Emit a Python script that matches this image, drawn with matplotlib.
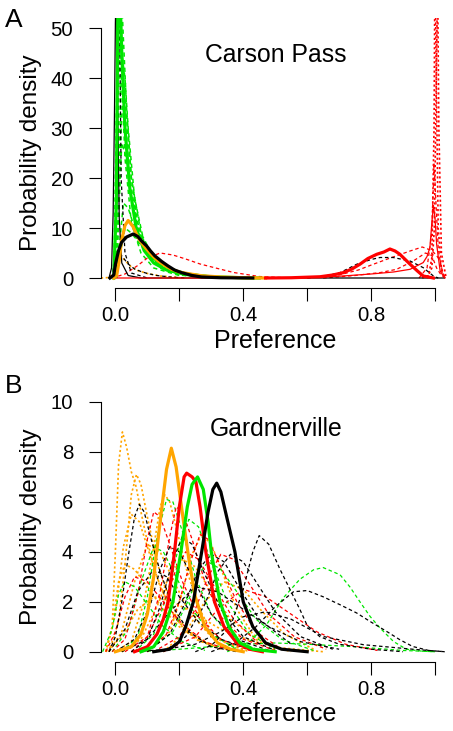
import matplotlib
matplotlib.use("Agg")
import matplotlib.pyplot as plt

plt.rcParams['font.family'] = ['Liberation Sans', 'DejaVu Sans']

RED = '#FF0000'
GREEN = '#00E600'
ORANGE = '#FFA500'
BLACK = '#000000'

# ---------------- Panel A: Carson Pass ----------------
# thick (pooled) curves
carson_black_x = [-0.017, -0.005, 0.0, 0.01, 0.019, 0.035, 0.056, 0.07, 0.082, 0.098, 0.11, 0.124,
                  0.145, 0.165, 0.185, 0.207, 0.24, 0.27, 0.33, 0.43]
carson_black_y = [0, 0.6, 2.75, 5.5, 7.1, 8.2, 8.8, 8.3, 7.4, 6.4, 5.4, 4.4,
                  3.3, 2.4, 1.6, 1.07, 0.5, 0.2, 0.05, 0]
carson_orange_x = [-0.005, 0.004, 0.012, 0.019, 0.03, 0.04, 0.055, 0.071, 0.087, 0.103, 0.12, 0.134,
                   0.155, 0.176, 0.2, 0.228, 0.27, 0.33, 0.4, 0.47]
carson_orange_y = [0, 0.5, 3.5, 7.4, 10.5, 11.5, 10.3, 8.1, 6.6, 5.4, 4.2, 3.4,
                   2.5, 1.74, 1.2, 0.87, 0.45, 0.2, 0.05, 0]
carson_red_x = [0.47, 0.55, 0.64, 0.68, 0.713, 0.74, 0.765, 0.79, 0.818, 0.84, 0.859, 0.875,
                0.89, 0.922, 0.945, 0.963, 0.995]
carson_red_y = [0, 0.05, 0.25, 0.6, 1.07, 1.8, 2.75, 3.9, 4.75, 5.2, 5.8, 5.4,
                4.75, 2.75, 1.4, 0.4, 0]
carson_green_x = [-0.005, 0.003, 0.008, 0.013, 0.02, 0.03, 0.045, 0.065, 0.09, 0.12, 0.16, 0.22,
                  0.3, 0.4, 0.45]
carson_green_y = [0, 15, 55, 60, 45, 30, 18, 10, 5.5, 3, 1.6, 0.7, 0.25, 0.05, 0]

# thin solid curves
carson_thin_black_x = [-0.02, -0.012, -0.007, -0.003, 0.0, 0.003, 0.007, 0.012, 0.02, 0.04, 0.08, 1.03]
carson_thin_black_y = [0, 2, 13, 32, 51, 60, 35, 12, 3, 0.5, 0, 0]
carson_thin_red_x = [-0.01, 0.2, 0.45, 0.577, 0.7, 0.8, 0.87, 0.922, 0.963, 0.975, 0.984, 0.99,
                     0.995, 1.0, 1.005, 1.016, 1.03]
carson_thin_red_y = [0, 0, 0, 0.07, 0.35, 0.8, 1.2, 1.74, 3.08, 4.3, 6.1, 11,
                     14.5, 12, 6.8, 1.4, 0]

# individual curves (dashed)
carson_green_dash_x = [
    [-0.005, 0.005, 0.012, 0.02, 0.03, 0.045, 0.07, 0.1, 0.15, 0.2, 0.3],
    [0.0, 0.01, 0.017, 0.025, 0.035, 0.05, 0.08, 0.12, 0.18, 0.25, 0.35],
    [0.0, 0.01, 0.02, 0.03, 0.04, 0.06, 0.09, 0.13, 0.2, 0.3],
    [0.0, 0.01, 0.02, 0.03, 0.05, 0.07, 0.1, 0.15, 0.22, 0.3],
    [0.0, 0.015, 0.025, 0.04, 0.06, 0.09, 0.13, 0.2, 0.3],
    [0.0, 0.015, 0.03, 0.05, 0.08, 0.12, 0.16, 0.22, 0.3, 0.4],
    [0.0, 0.005, 0.01, 0.02, 0.03, 0.05, 0.08, 0.12, 0.2],
    [0.005, 0.015, 0.025, 0.035, 0.05, 0.07, 0.1, 0.14, 0.2, 0.28],
]
carson_green_dash_y = [
    [0, 40, 70, 48, 32, 20, 10, 5, 2, 0.9, 0.2],
    [0, 35, 60, 48, 34, 20, 9, 4, 1.6, 0.6, 0.1],
    [0, 20, 45, 40, 30, 16, 7, 3, 1, 0.2],
    [0, 12, 27, 25, 16, 10, 5, 2, 0.7, 0.1],
    [0, 8, 15, 14, 10, 6, 3, 1, 0.2],
    [0, 5, 10, 9, 6.5, 4, 2.2, 1.0, 0.35, 0],
    [0, 30, 75, 40, 24, 11, 5, 2, 0.5],
    [0, 25, 40, 32, 20, 11, 5, 2, 0.6, 0.1],
]
carson_black_dash_x = [
    [-0.01, -0.002, 0.003, 0.008, 0.012, 0.018, 0.03, 0.05, 0.1],
    [-0.01, 0.0, 0.008, 0.015, 0.025, 0.04, 0.06, 0.08, 0.1, 0.13, 0.17, 0.22],
    [0.6, 0.65, 0.703, 0.755, 0.8, 0.828, 0.869, 0.922, 0.963, 0.995, 1.01],
]
carson_black_dash_y = [
    [0, 5, 13, 51, 60, 20, 5, 1, 0],
    [0, 1.5, 4, 4.8, 4, 2.8, 1.8, 1.3, 0.9, 0.5, 0.2, 0],
    [0, 0.3, 1.07, 2.75, 3.7, 4.1, 4.1, 3.4, 2.07, 0.4, 0],
]
carson_orange_dash_x = [[-0.045, -0.02, 0.0, 0.01, 0.018, 0.03, 0.05, 0.07, 0.1, 0.14, 0.2]]
carson_orange_dash_y = [[0, 0.1, 1.5, 3.8, 4.5, 3.5, 2.2, 1.5, 0.9, 0.4, 0.1]]
carson_red_dash_x = [
    [-0.01, 0.03, 0.07, 0.1, 0.14, 0.18, 0.22, 0.265, 0.32, 0.37, 0.45, 0.55],
    [0.6, 0.7, 0.76, 0.807, 0.86, 0.922, 0.96, 0.99, 1.005, 1.016, 1.025, 1.035],
    [0.65, 0.75, 0.83, 0.88, 0.932, 0.97, 0.99, 1.005, 1.02, 1.035],
    [0.95, 0.975, 0.99, 0.997, 1.003, 1.01, 1.02, 1.03],
]
carson_red_dash_y = [
    [0, 0.8, 2.5, 4, 5, 4.6, 3.8, 2.8, 1.9, 1.1, 0.3, 0],
    [0, 0.6, 1.6, 2.75, 4.0, 5.4, 6.2, 5.5, 4.5, 3.4, 0.8, 0],
    [0, 0.5, 1.1, 1.74, 3.4, 5, 4.5, 2, 0.5, 0],
    [0, 2, 9, 23, 15, 6, 1.5, 0],
]
carson_red_dot_x = [
    [0.96, 0.98, 0.99, 0.997, 1.0, 1.004, 1.01, 1.02, 1.03],
    [0.975, 0.99, 0.998, 1.005, 1.008, 1.012, 1.02, 1.035],
]
carson_red_dot_y = [
    [0, 0.5, 4, 30, 65, 40, 10, 2, 0],
    [0, 2, 10, 45, 60, 30, 5, 0],
]

# ---------------- Panel B: Gardnerville ----------------
gard_orange_x = [0.0, 0.05, 0.08, 0.1, 0.12, 0.14, 0.16, 0.175, 0.19, 0.21, 0.23, 0.25, 0.28, 0.32, 0.36, 0.4]
gard_orange_y = [0, 0.2, 0.7, 1.5, 3, 5.2, 7.3, 8.15, 7.4, 5.5, 3.7, 2.2, 1.0, 0.35, 0.1, 0]
gard_red_x = [0.06, 0.1, 0.13, 0.15, 0.165, 0.185, 0.2, 0.215, 0.223, 0.24, 0.252, 0.265, 0.283,
              0.31, 0.34, 0.38, 0.42, 0.46]
gard_red_y = [0, 0.2, 0.7, 1.3, 2, 4, 5.8, 7.0, 7.15, 7.0, 6.8, 5.8, 4,
              2, 1, 0.35, 0.1, 0]
gard_green_x = [0.08, 0.12, 0.15, 0.18, 0.205, 0.225, 0.24, 0.257, 0.275, 0.29, 0.30, 0.327, 0.355,
                0.39, 0.43, 0.5]
gard_green_y = [0, 0.2, 0.8, 2, 4, 5.8, 6.7, 7.0, 6.5, 5.2, 4, 2, 1, 0.35, 0.1, 0]
gard_black_x = [0.12, 0.17, 0.2, 0.22, 0.244, 0.27, 0.29, 0.305, 0.317, 0.33, 0.35, 0.374, 0.4,
                0.43, 0.47, 0.52, 0.6]
gard_black_y = [0, 0.1, 0.4, 1, 2, 4, 5.6, 6.5, 6.75, 6.4, 5.3, 4, 2, 1, 0.35, 0.1, 0]

gard_orange_dot_x = [
    [-0.03, -0.01, 0.0, 0.01, 0.022, 0.035, 0.05, 0.065, 0.08, 0.1, 0.13, 0.17, 0.22, 0.3, 0.4],
    [-0.02, 0.01, 0.03, 0.05, 0.066, 0.08, 0.1, 0.13, 0.17, 0.22, 0.3, 0.4],
    [0.0, 0.05, 0.09, 0.12, 0.14, 0.155, 0.17, 0.19, 0.22, 0.26, 0.3, 0.35, 0.42],
    [0.1, 0.17, 0.21, 0.24, 0.27, 0.3, 0.34, 0.38, 0.43, 0.5],
    [-0.03, -0.01, 0.01, 0.03, 0.06, 0.1, 0.15, 0.2, 0.27, 0.35],
    [-0.03, 0.0, 0.025, 0.05, 0.075, 0.1, 0.14, 0.19, 0.25, 0.33],
    [-0.02, 0.02, 0.06, 0.1, 0.14, 0.18, 0.23, 0.3, 0.4],
    [0.15, 0.22, 0.28, 0.34, 0.4, 0.46, 0.53, 0.62],
    [0.02, 0.08, 0.13, 0.17, 0.21, 0.25, 0.3, 0.36, 0.45, 0.55],
    [-0.03, 0.02, 0.07, 0.12, 0.18, 0.25, 0.33, 0.42, 0.52, 0.65],
]
gard_orange_dot_y = [
    [0, 1, 4, 7.5, 8.8, 8.2, 7.2, 6.6, 5.6, 4.4, 3.0, 1.7, 0.8, 0.25, 0],
    [0, 1.2, 3.5, 6.3, 7.1, 6.7, 5.4, 3.6, 2.0, 0.9, 0.25, 0],
    [0, 0.4, 2, 4.2, 5.8, 6.28, 6.0, 5.0, 3.4, 1.8, 0.8, 0.3, 0],
    [0, 0.8, 2.4, 3.9, 4.7, 4.3, 3.0, 1.7, 0.7, 0.1],
    [0, 1, 2.8, 3.5, 3.3, 2.6, 1.7, 1.0, 0.4, 0.1],
    [0, 1.5, 4.2, 5.5, 5.2, 4.2, 2.6, 1.3, 0.5, 0.1],
    [0, 0.8, 2.8, 4.3, 4.0, 2.9, 1.6, 0.6, 0.1],
    [0, 0.8, 2.0, 2.8, 2.5, 1.6, 0.7, 0.1],
    [0, 0.5, 1.8, 3.1, 3.7, 3.4, 2.4, 1.3, 0.4, 0],
    [0, 0.6, 1.7, 2.2, 2.0, 1.5, 0.9, 0.45, 0.15, 0],
]
gard_black_dash_x = [
    [-0.02, 0.0, 0.02, 0.04, 0.06, 0.075, 0.09, 0.11, 0.14, 0.18, 0.23, 0.3, 0.38],
    [0.25, 0.3, 0.36, 0.4, 0.43, 0.45, 0.48, 0.515, 0.546, 0.577, 0.6, 0.64, 0.7, 0.8, 0.9],
    [0.3, 0.38, 0.44, 0.5, 0.557, 0.6, 0.65, 0.703, 0.755, 0.797, 0.849, 0.89, 0.93, 0.98, 1.03],
    [0.05, 0.1, 0.14, 0.18, 0.21, 0.24, 0.28, 0.33, 0.4, 0.5],
    [0.15, 0.22, 0.28, 0.32, 0.36, 0.4, 0.45, 0.5, 0.58, 0.68],
    [0.1, 0.17, 0.22, 0.26, 0.3, 0.34, 0.39, 0.45, 0.55],
    [0.05, 0.15, 0.25, 0.33, 0.4, 0.47, 0.55, 0.65, 0.776, 0.93, 1.03],
    [-0.02, 0.03, 0.07, 0.12, 0.16, 0.2, 0.26, 0.33, 0.42],
    [0.02, 0.1, 0.17, 0.25, 0.32, 0.4, 0.48, 0.58, 0.7],
    [0.0, 0.06, 0.11, 0.14, 0.17, 0.2, 0.24, 0.3, 0.38, 0.48],
]
gard_black_dash_y = [
    [0, 0.6, 2.0, 3.8, 5.4, 5.9, 5.6, 4.6, 3.2, 1.8, 0.8, 0.2, 0],
    [0, 0.25, 1.0, 2.5, 4.0, 4.65, 4.3, 3.3, 2.5, 1.7, 1.05, 0.6, 0.3, 0.1, 0],
    [0, 0.4, 1.0, 1.8, 2.4, 2.45, 2.2, 1.88, 1.55, 1.21, 0.81, 0.48, 0.21, 0.05, 0],
    [0, 0.5, 1.8, 3.7, 4.6, 4.3, 3.1, 1.7, 0.6, 0.05],
    [0, 0.6, 1.9, 3.2, 3.9, 3.6, 2.6, 1.6, 0.6, 0.1],
    [0, 0.7, 2.0, 3.3, 3.9, 3.6, 2.5, 1.3, 0.3],
    [0, 0.08, 0.3, 0.8, 1.4, 1.6, 1.3, 0.61, 0.28, 0.1, 0],
    [0, 0.9, 2.4, 3.3, 3.0, 2.2, 1.2, 0.5, 0.1],
    [0, 0.5, 1.6, 2.6, 2.4, 1.7, 1.0, 0.4, 0.1],
    [0, 0.5, 1.9, 3.3, 4.2, 4.0, 3.0, 1.5, 0.5, 0.05],
]
gard_red_dash_x = [
    [-0.01, 0.03, 0.07, 0.1, 0.12, 0.14, 0.17, 0.21, 0.26, 0.33, 0.42],
    [0.05, 0.1, 0.14, 0.17, 0.19, 0.21, 0.24, 0.28, 0.33, 0.4, 0.5],
    [0.1, 0.16, 0.2, 0.235, 0.265, 0.29, 0.33, 0.38, 0.44, 0.52],
    [0.12, 0.2, 0.25, 0.29, 0.33, 0.37, 0.42, 0.48, 0.56, 0.66],
    [0.15, 0.25, 0.32, 0.4, 0.47, 0.55, 0.63, 0.72, 0.82],
    [-0.03, 0.0, 0.03, 0.06, 0.1, 0.15, 0.21, 0.28, 0.36],
    [0.03, 0.1, 0.15, 0.19, 0.22, 0.26, 0.31, 0.37, 0.45],
]
gard_red_dash_y = [
    [0, 0.5, 2.3, 4.5, 5.6, 5.4, 4.3, 2.8, 1.4, 0.5, 0.05],
    [0, 0.6, 2.4, 4.6, 5.8, 5.6, 4.5, 2.8, 1.4, 0.5, 0.05],
    [0, 0.7, 2.0, 3.6, 4.7, 4.5, 3.4, 2.0, 0.8, 0.1],
    [0, 0.6, 1.7, 3.0, 3.9, 3.7, 2.7, 1.5, 0.6, 0.1],
    [0, 0.6, 1.7, 2.5, 2.2, 1.5, 0.8, 0.3, 0.05],
    [0, 0.8, 2.2, 3.0, 2.8, 2.0, 1.1, 0.4, 0.05],
    [0, 0.6, 1.9, 3.3, 4.0, 3.7, 2.6, 1.3, 0.3],
]
gard_green_dash_x = [
    [0.02, 0.07, 0.1, 0.13, 0.16, 0.18, 0.21, 0.25, 0.3, 0.37, 0.45],
    [0.35, 0.42, 0.473, 0.525, 0.577, 0.62, 0.65, 0.703, 0.734, 0.765, 0.797, 0.828, 0.87, 0.91, 0.96, 1.0],
    [0.06, 0.12, 0.16, 0.2, 0.23, 0.26, 0.3, 0.35, 0.42, 0.5],
    [-0.04, -0.01, 0.01, 0.03, 0.06, 0.1, 0.15, 0.21, 0.28],
    [0.1, 0.18, 0.23, 0.26, 0.29, 0.33, 0.38, 0.44, 0.52, 0.62],
    [-0.01, 0.04, 0.08, 0.12, 0.15, 0.19, 0.24, 0.3, 0.38],
    [0.08, 0.2, 0.3, 0.4, 0.5, 0.6, 0.75, 0.9, 1.0],
]
gard_green_dash_y = [
    [0, 0.6, 2.2, 4.6, 6.1, 6.0, 4.8, 3.0, 1.5, 0.5, 0.05],
    [0, 0.4, 1.08, 2.15, 2.9, 3.28, 3.37, 3.08, 2.59, 2.0, 1.41, 0.95, 0.41, 0.1, 0.02, 0],
    [0, 0.7, 2.2, 4.3, 5.3, 5.0, 3.6, 2.0, 0.7, 0.1],
    [0, 0.9, 2.3, 2.8, 2.6, 1.9, 1.0, 0.4, 0.05],
    [0, 0.8, 2.1, 3.1, 3.6, 3.3, 2.4, 1.3, 0.5, 0.05],
    [0, 0.9, 2.8, 4.2, 4.0, 3.0, 1.7, 0.7, 0.1],
    [0, 0.1, 0.2, 0.3, 0.35, 0.3, 0.2, 0.05, 0],
]

x_ticks = [0.0, 0.2, 0.4, 0.6, 0.8, 1.0]
x_tick_labels = ['0.0', '', '0.4', '', '0.8', '']
carson_y_ticks = [0, 10, 20, 30, 40, 50]
gard_y_ticks = [0, 2, 4, 6, 8, 10]

DASH = (0, (2.8, 2.2))
DOT = (0, (1.3, 1.5))
THIN = 0.9
THICK = 2.3


def draw_group(ax, xs, ys, color, ls, lw=THIN):
    for x, y in zip(xs, ys):
        ax.plot(x, y, color=color, linestyle=ls, lw=lw)


def style_axis(ax, yticks, ylim):
    ax.set_xlim(-0.045, 1.04)
    ax.set_ylim(*ylim)
    for s in ['top', 'right']:
        ax.spines[s].set_visible(False)
    ax.spines['left'].set_bounds(yticks[0], yticks[-1])
    ax.spines['bottom'].set_bounds(0, 1)
    for s in ['left', 'bottom']:
        ax.spines[s].set_linewidth(0.8)
    ax.set_xticks(x_ticks)
    ax.set_xticklabels(x_tick_labels)
    ax.set_yticks(yticks)
    ax.set_yticklabels([str(t) for t in yticks])
    ax.tick_params(axis='both', direction='out', length=9, width=0.8, labelsize=14.7)
    ax.tick_params(axis='y', pad=11)
    ax.tick_params(axis='x', pad=4)
    ax.set_xlabel('Preference', fontsize=18)
    ax.set_ylabel('Probability density', fontsize=17.5)
    ax.xaxis.set_label_coords(0.502, -0.15)
    ax.yaxis.set_label_coords(-0.17, 0.5)


def main():
    fig = plt.figure(figsize=(4.53, 7.31), dpi=100)
    W, H = 453.0, 731.0
    axA = fig.add_axes([101 / W, 1 - 288 / H, 346.8 / W, 270 / H])
    axB = fig.add_axes([101 / W, 1 - 661.7 / H, 346.8 / W, 269.7 / H])

    # panel A
    draw_group(axA, carson_green_dash_x, carson_green_dash_y, GREEN, DASH, lw=1.1)
    draw_group(axA, carson_red_dash_x, carson_red_dash_y, RED, DASH)
    draw_group(axA, carson_red_dot_x, carson_red_dot_y, RED, DOT, lw=1.2)
    draw_group(axA, carson_orange_dash_x, carson_orange_dash_y, ORANGE, DOT, lw=1.2)
    draw_group(axA, carson_black_dash_x, carson_black_dash_y, BLACK, DASH)
    axA.plot(carson_thin_black_x, carson_thin_black_y, color=BLACK, lw=THIN)
    axA.plot(carson_thin_red_x, carson_thin_red_y, color=RED, lw=THIN)
    axA.plot(carson_green_x, carson_green_y, color=GREEN, lw=THICK)
    axA.plot(carson_orange_x, carson_orange_y, color=ORANGE, lw=THICK)
    axA.plot(carson_red_x, carson_red_y, color=RED, lw=THICK)
    axA.plot(carson_black_x, carson_black_y, color=BLACK, lw=THICK)
    style_axis(axA, carson_y_ticks, (-2.0, 52.0))
    axA.text(0.502, 43.2, 'Carson Pass', ha='center', va='baseline', fontsize=17.8)

    # panel B
    draw_group(axB, gard_orange_dot_x, gard_orange_dot_y, ORANGE, DOT, lw=1.2)
    draw_group(axB, gard_green_dash_x, gard_green_dash_y, GREEN, DASH)
    draw_group(axB, gard_red_dash_x, gard_red_dash_y, RED, DASH)
    draw_group(axB, gard_black_dash_x, gard_black_dash_y, BLACK, DASH)
    axB.plot(gard_orange_x, gard_orange_y, color=ORANGE, lw=THICK)
    axB.plot(gard_red_x, gard_red_y, color=RED, lw=THICK)
    axB.plot(gard_green_x, gard_green_y, color=GREEN, lw=THICK)
    axB.plot(gard_black_x, gard_black_y, color=BLACK, lw=THICK)
    style_axis(axB, gard_y_ticks, (-0.4, 10.4))
    axB.text(0.502, 8.64, 'Gardnerville', ha='center', va='baseline', fontsize=17.8)

    fig.text(5 / W, 1 - 26.7 / H, 'A', fontsize=19, ha='left', va='baseline')
    fig.text(5 / W, 1 - 393.3 / H, 'B', fontsize=19, ha='left', va='baseline')

    fig.savefig('out.png', dpi=100)


if __name__ == "__main__":
    main()
